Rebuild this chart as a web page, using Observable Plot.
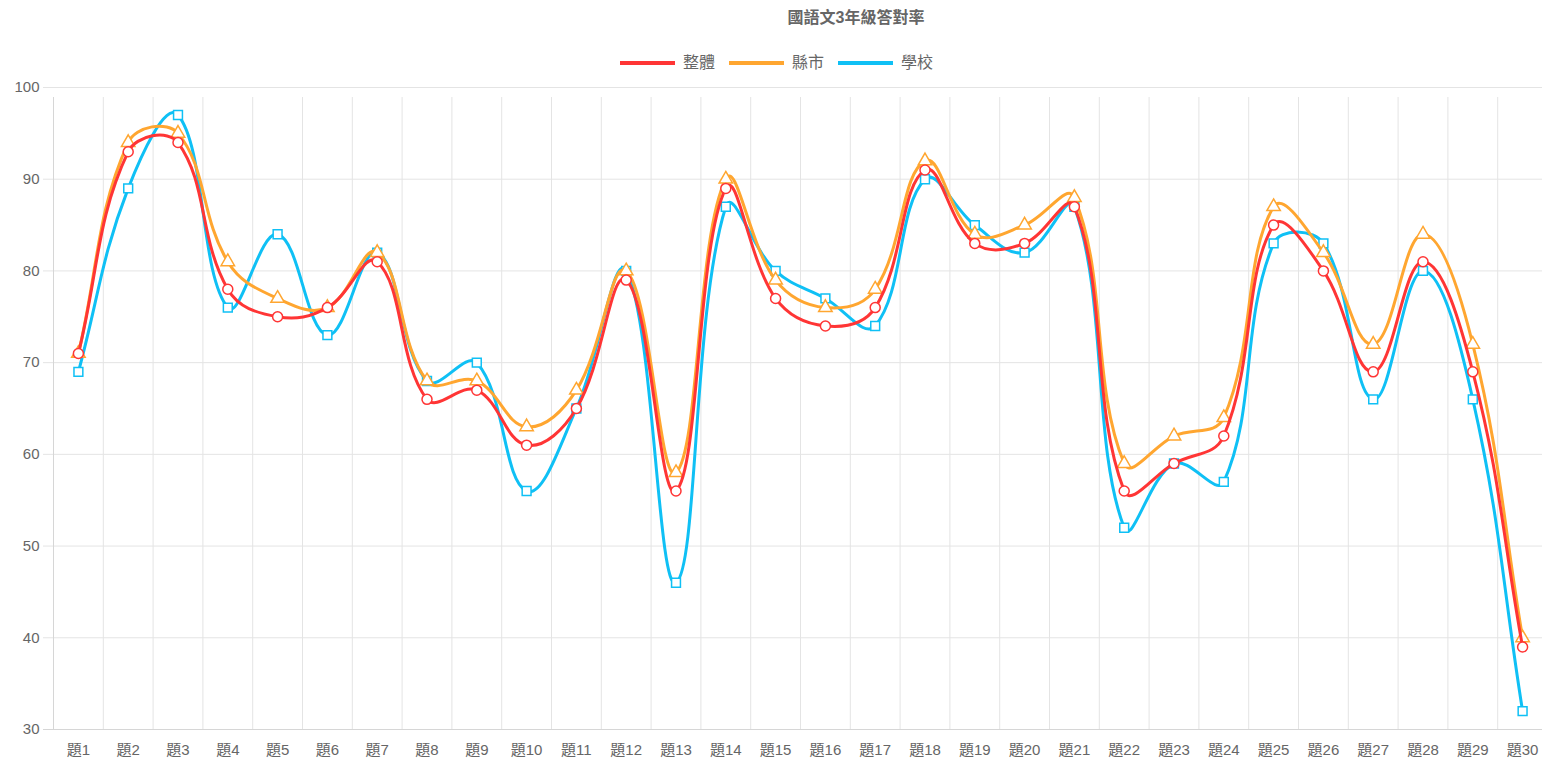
<!DOCTYPE html>
<html>
<head>
<meta charset="utf-8">
<script src="https://cdn.jsdelivr.net/npm/d3@7"></script>
<script src="https://cdn.jsdelivr.net/npm/@observablehq/plot@0.6"></script>
<style>
  html, body { margin: 0; padding: 0; background: #fff; }
  body { width: 1542px; height: 759px; position: relative; overflow: hidden;
         font-family: "Liberation Sans", "Noto Sans CJK TC", sans-serif; }
  #chart { position: absolute; left: 0; top: 0; }
  #title { position: absolute; top: 6px; left: 856px; transform: translateX(-50%);
           font-size: 16px; font-weight: bold; color: #666; white-space: nowrap; line-height: 24px; }
  #legend { position: absolute; top: 51px; left: 620px; display: flex; align-items: center;
            font-size: 16px; color: #666; white-space: nowrap; line-height: 24px; }
  .item { display: flex; align-items: center; margin-right: 14px; }
  .swatch { width: 55px; height: 4px; margin-right: 8px; }
</style>
</head>
<body>
<div id="chart"></div>
<div id="title">國語文3年級答對率</div>
<div id="legend"></div>
<script>
const questions = ["題1","題2","題3","題4","題5","題6","題7","題8","題9","題10",
  "題11","題12","題13","題14","題15","題16","題17","題18","題19","題20",
  "題21","題22","題23","題24","題25","題26","題27","題28","題29","題30"];
const overall = [71,93,94,78,75,76,81,66,67,61,65,79,56,89,77,74,76,91,83,83,87,56,59,62,85,80,69,81,69,39];
const county  = [71,94,95,81,77,76,82,68,68,63,67,80,58,90,79,76,78,92,84,85,88,59,62,64,87,82,72,84,72,40];
const school  = [69,89,97,76,84,73,82,68,70,56,65,80,46,87,80,77,74,90,85,82,87,52,59,57,83,83,66,80,66,32];
const seriesNames = ["整體","縣市","學校"];
const seriesColors = ["#ff3535","#ffa630","#0fc0f5"];
const seriesSymbols = ["circle","triangle","square"];
const yTicks = [30,40,50,60,70,80,90,100];

const seriesValues = [overall, county, school];
const rows = (s) => questions.map((q, i) => ({i, q, v: seriesValues[s][i]}));
const bounds = questions.map((q, i) => i - 0.5).concat([questions.length - 0.5]);

// Chart.js-style spline (tension 0.4, distance weighted)
function chartjsCurve(context) {
  let pts;
  return {
    areaStart() {}, areaEnd() {},
    lineStart() { pts = []; },
    point(x, y) { pts.push([+x, +y]); },
    lineEnd() {
      const t = 0.4, n = pts.length;
      if (!n) return;
      const cps = pts.map((p, i) => {
        const prev = pts[Math.max(i - 1, 0)], next = pts[Math.min(i + 1, n - 1)];
        const d01 = Math.hypot(p[0] - prev[0], p[1] - prev[1]);
        const d12 = Math.hypot(next[0] - p[0], next[1] - p[1]);
        let s01 = d01 / (d01 + d12), s12 = d12 / (d01 + d12);
        if (!isFinite(s01)) s01 = 0; if (!isFinite(s12)) s12 = 0;
        const fa = t * s01, fb = t * s12;
        const dx = next[0] - prev[0], dy = next[1] - prev[1];
        return {a: [p[0] - fa * dx, p[1] - fa * dy], b: [p[0] + fb * dx, p[1] + fb * dy]};
      });
      context.moveTo(pts[0][0], pts[0][1]);
      for (let i = 1; i < n; i++) {
        context.bezierCurveTo(cps[i - 1].b[0], cps[i - 1].b[1], cps[i].a[0], cps[i].a[1], pts[i][0], pts[i][1]);
      }
    }
  };
}

const seriesMarks = [];
for (const s of [2, 1, 0]) {
  seriesMarks.push(Plot.line(rows(s), {x: "i", y: "v", stroke: seriesColors[s], strokeWidth: 3, curve: chartjsCurve}));
  seriesMarks.push(Plot.dot(rows(s), {x: "i", y: "v", symbol: seriesSymbols[s], r: 5, stroke: seriesColors[s], strokeWidth: 1.5, fill: "white"}));
}

const chart = Plot.plot({
  width: 1542,
  height: 759,
  marginLeft: 53,
  marginRight: 0,
  marginTop: 87,
  marginBottom: 30,
  style: {fontFamily: '"Liberation Sans", "Noto Sans CJK TC", sans-serif', background: "transparent"},
  x: {type: "linear", domain: [-0.5, questions.length - 0.5], range: [53, 1547]},
  y: {domain: [30, 100], range: [729, 87]},
  marks: [
    Plot.ruleX(bounds, {x: d => d, y1: 30, y2: 100, stroke: "#e4e4e4", strokeWidth: 1, insetBottom: -10}),
    Plot.ruleY(yTicks, {y: d => d, stroke: "#e4e4e4", strokeWidth: 1, insetLeft: -10}),
    Plot.ruleX([-0.5], {x: d => d, y1: 30, y2: 100, stroke: "#d6d6d6", insetBottom: -10}),
    Plot.ruleY([30], {y: d => d, stroke: "#d6d6d6", insetLeft: -10}),
    Plot.axisY({ticks: yTicks, tickSize: 0, tickPadding: 14, fontSize: 15, color: "#666", label: null}),
    Plot.axisX({ticks: questions.map((q, i) => i), tickFormat: i => questions[i], tickSize: 0, tickPadding: 15, fontSize: 15, color: "#666", label: null}),
    ...seriesMarks
  ]
});
document.getElementById("chart").appendChild(chart);

const legend = document.getElementById("legend");
seriesNames.forEach((name, s) => {
  const item = document.createElement("div");
  item.className = "item";
  const sw = document.createElement("span");
  sw.className = "swatch";
  sw.style.background = seriesColors[s];
  const tx = document.createElement("span");
  tx.textContent = name;
  item.appendChild(sw); item.appendChild(tx);
  legend.appendChild(item);
});
</script>
</body>
</html>
